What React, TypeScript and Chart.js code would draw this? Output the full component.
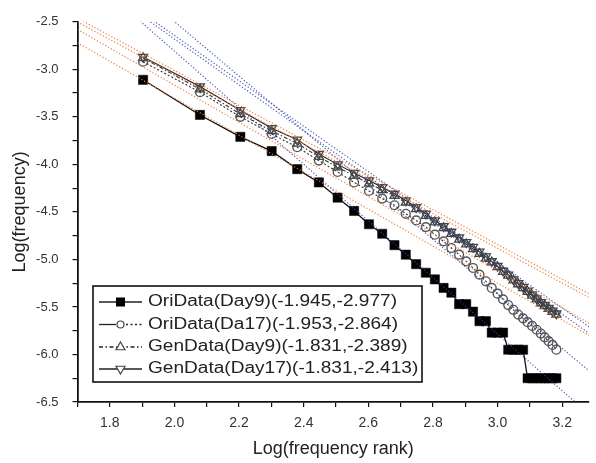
import React, { useEffect, useRef } from 'react';
import { Chart, registerables } from 'chart.js';

Chart.register(...registerables);

// log10(frequency rank)
const logRank = [1.903, 2.079, 2.204, 2.301, 2.380, 2.447, 2.505, 2.556, 2.602, 2.643, 2.681, 2.716, 2.748, 2.778, 2.806, 2.833, 2.857, 2.881, 2.903, 2.924, 2.944, 2.964, 2.982, 3.000, 3.017, 3.033, 3.049, 3.064, 3.079, 3.093, 3.107, 3.121, 3.134, 3.146, 3.158, 3.170, 3.182];

const oriDay9 = [-3.11, -3.48, -3.71, -3.86, -4.05, -4.19, -4.35, -4.49, -4.63, -4.73, -4.85, -4.95, -5.05, -5.14, -5.21, -5.30, -5.35, -5.47, -5.47, -5.55, -5.65, -5.65, -5.77, -5.77, -5.77, -5.95, -5.95, -5.95, -5.95, -6.25, -6.25, -6.25, -6.25, -6.25, -6.25, -6.25, -6.25];

const oriDay17 = [-2.92, -3.24, -3.50, -3.68, -3.82, -3.96, -4.08, -4.19, -4.28, -4.36, -4.43, -4.52, -4.59, -4.66, -4.74, -4.81, -4.88, -4.95, -5.02, -5.09, -5.16, -5.23, -5.30, -5.36, -5.42, -5.48, -5.53, -5.58, -5.62, -5.66, -5.70, -5.74, -5.78, -5.82, -5.86, -5.90, -5.95];

const genDay9 = [-2.88, -3.21, -3.47, -3.65, -3.78, -3.92, -4.03, -4.12, -4.20, -4.27, -4.33, -4.40, -4.47, -4.54, -4.61, -4.67, -4.73, -4.79, -4.84, -4.89, -4.94, -4.99, -5.03, -5.08, -5.13, -5.17, -5.22, -5.26, -5.30, -5.34, -5.38, -5.42, -5.46, -5.49, -5.52, -5.55, -5.58];

const genDay17 = [-2.87, -3.18, -3.43, -3.62, -3.74, -3.89, -4.00, -4.09, -4.17, -4.24, -4.31, -4.38, -4.45, -4.52, -4.59, -4.65, -4.71, -4.77, -4.82, -4.87, -4.92, -4.97, -5.02, -5.07, -5.12, -5.16, -5.21, -5.25, -5.29, -5.33, -5.37, -5.41, -5.45, -5.48, -5.51, -5.54, -5.57];

const seriesNames = [
  'OriData(Day9)(-1.945,-2.977)',
  'OriData(Da17)(-1.953,-2.864)',
  'GenData(Day9)(-1.831,-2.389)',
  'GenData(Day17)(-1.831,-2.413)',
];

// fitted power-law lines (head fit: orange, tail fit: blue)
const headSlopes = [-1.945, -1.953, -1.831, -1.831];
const headIntercepts = [0.5865, 0.74, 0.61, 0.65];
const tailSlopes = [-2.977, -2.864, -2.389, -2.413];
const tailIntercepts = [3.145, 3.23, 2.135, 2.145];
const fitRange = [1.7, 3.35];

const xMin = 1.7;
const xMax = 3.283;
const yMin = -6.5;
const yMax = -2.5;

const FONT = "'Liberation Sans', Arial, sans-serif";

function toPts(ys: number[]) {
  return ys.map((y, i) => ({ x: logRank[i], y }));
}

function fitLine(a: number, s: number) {
  return fitRange.map((x) => ({ x, y: a + s * x }));
}

function drawMarker(ctx: CanvasRenderingContext2D, kind: number, x: number, y: number) {
  ctx.save();
  ctx.setLineDash([]);
  ctx.lineWidth = 1.2;
  if (kind === 0) {
    ctx.fillStyle = '#000';
    ctx.fillRect(x - 4.5, y - 4.5, 9, 9);
  } else if (kind === 1) {
    ctx.strokeStyle = '#444';
    ctx.fillStyle = '#fff';
    ctx.beginPath();
    ctx.arc(x, y, 3.5, 0, Math.PI * 2);
    ctx.fill();
    ctx.stroke();
  } else {
    const r = 5;
    const dir = kind === 2 ? 1 : -1;
    ctx.strokeStyle = '#444';
    ctx.fillStyle = '#fff';
    ctx.beginPath();
    ctx.moveTo(x, y - dir * r);
    ctx.lineTo(x + r * 0.9, y + dir * r * 0.55);
    ctx.lineTo(x - r * 0.9, y + dir * r * 0.55);
    ctx.closePath();
    ctx.fill();
    ctx.stroke();
  }
  ctx.restore();
}

const boxLegend = {
  id: 'boxLegend',
  afterDatasetsDraw(chart: any) {
    const ctx: CanvasRenderingContext2D = chart.ctx;
    ctx.save();
    const bx = 93, by = 286, bw = 329, bh = 96;
    ctx.fillStyle = '#fff';
    ctx.fillRect(bx, by, bw, bh);
    ctx.strokeStyle = '#111';
    ctx.lineWidth = 1.6;
    ctx.strokeRect(bx, by, bw, bh);
    ctx.font = `16px ${FONT}`;
    const sx = 249 / ctx.measureText(seriesNames[0]).width;
    const rows = [302, 324.5, 347, 369];
    rows.forEach((ry, i) => {
      ctx.strokeStyle = '#222';
      ctx.lineWidth = 1.3;
      if (i === 0 || i === 3) {
        ctx.setLineDash([]);
        ctx.beginPath(); ctx.moveTo(99, ry); ctx.lineTo(142, ry); ctx.stroke();
      } else if (i === 1) {
        ctx.setLineDash([]);
        ctx.beginPath(); ctx.moveTo(99, ry); ctx.lineTo(116, ry); ctx.stroke();
        ctx.setLineDash([2, 2.5]);
        ctx.beginPath(); ctx.moveTo(126, ry); ctx.lineTo(142, ry); ctx.stroke();
      } else {
        ctx.setLineDash([4, 2.5, 1.5, 2.5]);
        ctx.beginPath(); ctx.moveTo(99, ry); ctx.lineTo(142, ry); ctx.stroke();
      }
      drawMarker(ctx, i, 120.5, ry);
      ctx.setLineDash([]);
      ctx.save();
      ctx.translate(148, ry);
      ctx.scale(sx, 1);
      ctx.fillStyle = '#222';
      ctx.textBaseline = 'middle';
      ctx.textAlign = 'left';
      ctx.fillText(seriesNames[i], 0, 0);
      ctx.restore();
    });
    ctx.restore();
  },
};

export default function App() {
  const ref = useRef<HTMLCanvasElement>(null);

  useEffect(() => {
    if (!ref.current) return;
    const orange = 'rgba(238,120,50,0.95)';
    const blue = 'rgba(55,75,175,0.9)';
    const fitSets: any[] = [];
    headSlopes.forEach((s, i) => {
      fitSets.push({
        label: 'head' + i,
        data: fitLine(headIntercepts[i], s),
        borderColor: orange,
        borderWidth: 1.2,
        borderDash: [1.2, 2],
        pointRadius: 0,
        order: 0,
      });
    });
    tailSlopes.forEach((s, i) => {
      fitSets.push({
        label: 'tail' + i,
        data: fitLine(tailIntercepts[i], s),
        borderColor: blue,
        borderWidth: 1.2,
        borderDash: [1.2, 2],
        pointRadius: 0,
        order: 0,
      });
    });

    const dataSets: any[] = [
      {
        label: seriesNames[0],
        data: toPts(oriDay9),
        borderColor: '#111',
        borderWidth: 1.3,
        pointStyle: 'rect',
        pointRadius: 6.5,
        pointBackgroundColor: '#000',
        pointBorderColor: '#000',
        pointBorderWidth: 0.5,
        order: 1,
      },
      {
        label: seriesNames[1],
        data: toPts(oriDay17),
        borderColor: '#333',
        borderWidth: 1.1,
        borderDash: [2, 2],
        pointStyle: 'circle',
        pointRadius: 4.4,
        pointBackgroundColor: 'rgba(255,255,255,0)',
        pointBorderColor: '#555',
        pointBorderWidth: 1.4,
        order: 2,
      },
      {
        label: seriesNames[2],
        data: toPts(genDay9),
        borderColor: '#333',
        borderWidth: 1.1,
        borderDash: [4, 2, 1.5, 2],
        pointStyle: 'triangle',
        pointRadius: 5.2,
        pointBackgroundColor: 'rgba(255,255,255,0)',
        pointBorderColor: '#444',
        pointBorderWidth: 1.3,
        order: 3,
      },
      {
        label: seriesNames[3],
        data: toPts(genDay17),
        borderColor: '#222',
        borderWidth: 1.1,
        pointStyle: 'triangle',
        pointRotation: 180,
        pointRadius: 5.2,
        pointBackgroundColor: 'rgba(255,255,255,0)',
        pointBorderColor: '#444',
        pointBorderWidth: 1.3,
        order: 4,
      },
    ];

    const chart = new Chart(ref.current, {
      type: 'line',
      data: { datasets: [...fitSets, ...dataSets] },
      plugins: [boxLegend],
      options: {
        animation: false,
        responsive: false,
        devicePixelRatio: 1,
        layout: { padding: { top: 19, right: 0, bottom: 0, left: 0 } },
        plugins: {
          legend: { display: false },
          tooltip: { enabled: false },
        },
        elements: { line: { tension: 0 } },
        scales: {
          x: {
            type: 'linear',
            min: xMin,
            max: xMax,
            afterFit: (scale: any) => { scale.height = 61; },
            border: { display: true, color: '#111', width: 1.8 },
            grid: { drawOnChartArea: false, drawTicks: true, tickLength: 5, color: '#111', lineWidth: 1.2 },
            ticks: {
              stepSize: 0.1,
              includeBounds: false,
              autoSkip: false,
              maxRotation: 0,
              padding: 8,
              color: '#333',
              font: { family: FONT, size: 14 },
              callback: (v: any) => {
                const n = Math.round(Number(v) * 10);
                return n % 2 === 0 ? (n / 10).toFixed(1) : '';
              },
            },
            title: {
              display: true,
              text: 'Log(frequency rank)',
              color: '#222',
              font: { family: FONT, size: 18 },
              padding: { top: 0, bottom: 3 },
            },
          },
          y: {
            type: 'linear',
            min: yMin,
            max: yMax,
            afterFit: (scale: any) => { scale.width = 77.5; },
            border: { display: true, color: '#111', width: 1.8 },
            grid: { drawOnChartArea: false, drawTicks: true, tickLength: 5, color: '#111', lineWidth: 1.2 },
            ticks: {
              stepSize: 0.25,
              autoSkip: false,
              padding: 14,
              color: '#333',
              font: { family: FONT, size: 13 },
              callback: (v: any) => {
                const n = Math.round(Number(v) * 4);
                return n % 2 === 0 ? (n / 4).toFixed(1) : '';
              },
            },
            title: {
              display: true,
              text: 'Log(frequency)',
              color: '#222',
              font: { family: FONT, size: 18 },
              padding: { top: 9, bottom: 0 },
            },
          },
        },
      },
    });
    return () => chart.destroy();
  }, []);

  return (
    <div style={{ position: 'absolute', left: 0, top: 0, width: 596, height: 463, background: '#fff' }}>
      <canvas ref={ref} width={596} height={463} style={{ display: 'block' }} />
    </div>
  );
}
